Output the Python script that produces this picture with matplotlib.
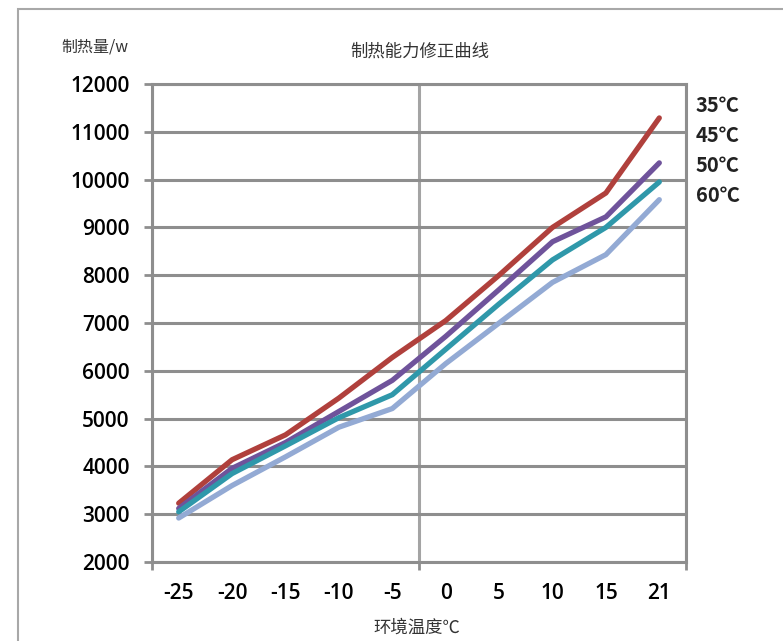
import matplotlib.pyplot as plt
from matplotlib.patches import Rectangle

# categories on the x axis (ambient temperature)
temps = ['-25', '-20', '-15', '-10', '-5', '0', '5', '10', '15', '21']

# heating capacity (W) for each water outlet temperature
cap_35 = [3230, 4140, 4660, 5430, 6280, 7050, 8000, 9000, 9720, 11290]
cap_45 = [3120, 3960, 4500, 5150, 5800, 6720, 7700, 8700, 9220, 10350]
cap_50 = [3050, 3850, 4430, 5020, 5500, 6450, 7400, 8320, 9000, 9950]
cap_60 = [2920, 3600, 4200, 4820, 5210, 6150, 7000, 7850, 8430, 9580]

series_labels = ['35℃', '45℃', '50℃', '60℃']
colors = ['#B0403C', '#6F539B', '#2F98AA', '#93AAD4']

cjk = ['Noto Sans CJK SC', 'DejaVu Sans']
num_font = 'Open Sans'
grid_c = '#8E8E8E'

fig = plt.figure(figsize=(7.83, 6.41), dpi=100)
fig.patches.append(Rectangle((18 / 783, -0.1), 1.2, 1 - 9 / 641 + 0.1,
                             transform=fig.transFigure, fill=False,
                             edgecolor='#A8A8A8', linewidth=1.5))

ax = fig.add_axes([152 / 783, 1 - 562 / 641, (686 - 152) / 783, (562 - 84) / 641])

x = list(range(len(temps)))
for vals, c in zip([cap_35, cap_45, cap_50, cap_60], colors):
    ax.plot(x, vals, color=c, linewidth=3.8, solid_capstyle='round', zorder=3)

ax.set_xlim(-0.5, len(temps) - 0.5)
ax.set_ylim(2000, 12000)
ax.set_yticks(range(2000, 12001, 1000))
ax.set_yticklabels([str(v) for v in range(2000, 12001, 1000)],
                   fontsize=15, fontfamily=num_font, fontweight='semibold')

ax.set_xticks(x)
ax.set_xticklabels(temps, fontsize=15, fontfamily=num_font, fontweight='semibold')
ax.tick_params(axis='x', which='major', length=0, pad=15)
ax.set_xticks([-0.5, 2, 4.5, 7, 9.5], minor=True)
ax.tick_params(axis='x', which='minor', length=6, width=2, color=grid_c)
ax.tick_params(axis='y', length=6, width=2, color=grid_c, pad=10)

ax.grid(True, axis='y', color=grid_c, linewidth=2.2, zorder=1)
ax.grid(True, axis='x', which='minor', color='#A4A4A4', linewidth=2.2, zorder=1)
ax.set_axisbelow(True)
for s in ax.spines.values():
    s.set_color(grid_c)
    s.set_linewidth(2.2)

fig.text(61 / 783, 1 - 47 / 641, '制热量/w', family=cjk, fontsize=11.5, va='center',
         color='#333333')
fig.text(420 / 783, 1 - 52 / 641, '制热能力修正曲线', family=cjk, fontsize=12.5,
         ha='center', va='center', color='#333333')
fig.text(417 / 783, 1 - 628 / 641, '环境温度℃', family=cjk, fontsize=12.5,
         ha='center', va='center', color='#333333')

label_y = [106, 136, 166, 196]
for lab, yy in zip(series_labels, label_y):
    fig.text(696 / 783, 1 - yy / 641, lab, family=cjk, fontsize=14.5,
             fontweight='bold', va='center', color='#222222')

plt.savefig('out.png', dpi=100)
